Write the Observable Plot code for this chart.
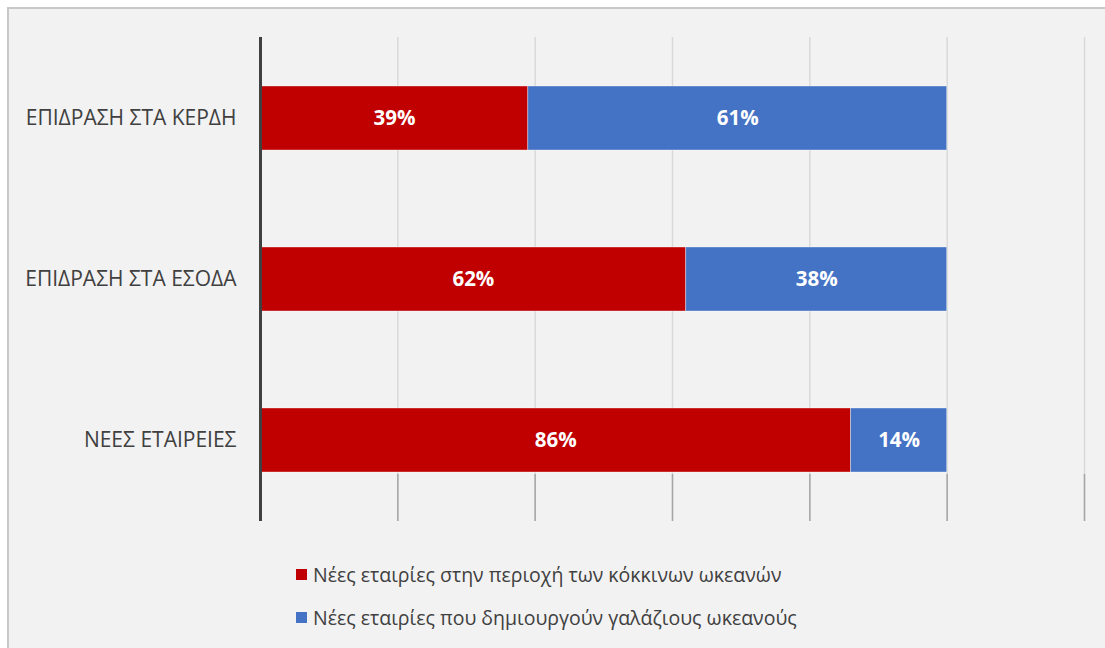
<!DOCTYPE html>
<html>
<head>
<meta charset="utf-8">
<script src="https://cdn.jsdelivr.net/npm/d3@7"></script>
<script src="https://cdn.jsdelivr.net/npm/@observablehq/plot@0.6"></script>
<style>
  html, body { margin: 0; padding: 0; background: #ffffff; width: 1105px; height: 648px; overflow: hidden; }
  #frame { position: absolute; left: 7px; top: 7px; width: 1110px; height: 660px; border: 2px solid #C8C8C8; background: #F2F2F2; }
  #chart { position: absolute; left: 0; top: 0; }
  #legend { position: absolute; left: 296px; top: 560px; font-family: "Open Sans", sans-serif; font-size: 19.5px; color: #404040; }
  .item { display: flex; align-items: center; height: 28px; margin-bottom: 15px; }
  .sw { width: 11px; height: 11px; margin-right: 6px; }
</style>
</head>
<body>
<div id="frame"></div>
<div id="chart"></div>
<div id="legend"></div>
<script>
const categories = ["ΕΠΙΔΡΑΣΗ ΣΤΑ ΚΕΡΔΗ", "ΕΠΙΔΡΑΣΗ ΣΤΑ ΕΣΟΔΑ", "ΝΕΕΣ ΕΤΑΙΡΕΙΕΣ"];
const seriesNames = ["Νέες εταιρίες στην περιοχή των κόκκινων ωκεανών", "Νέες εταιρίες που δημιουργούν γαλάζιους ωκεανούς"];
const redValues = [0.39, 0.62, 0.86];
const blueValues = [0.61, 0.38, 0.14];
const gridTicks = [0.2, 0.4, 0.6, 0.8, 1.0, 1.2];
const colors = ["#C00000", "#4472C4"];

const rows = [];
categories.forEach((c, i) => {
  rows.push({category: c, series: seriesNames[0], value: redValues[i]});
  rows.push({category: c, series: seriesNames[1], value: blueValues[i]});
});

const chart = Plot.plot({
  width: 1105,
  height: 540,
  marginLeft: 260,
  marginRight: 21,
  marginTop: 37,
  marginBottom: 19,
  style: {background: "transparent", fontFamily: "'Open Sans', sans-serif"},
  x: {domain: [0, 1.2]},
  y: {domain: categories, paddingInner: 0.6, paddingOuter: 0.3},
  color: {domain: seriesNames, range: colors},
  marks: [
    Plot.gridX(gridTicks, {stroke: "#D9D9D9", strokeOpacity: 1, strokeWidth: 1.5}),
    Plot.axisX(gridTicks, {tickSize: -47, tickFormat: () => "", stroke: "#A6A6A6", strokeWidth: 1.5, label: null}),
    Plot.barX(rows, Plot.stackX({y: "category", x: "value", fill: "series", z: "series", stroke: "white", strokeOpacity: 0.45, strokeWidth: 0.8})),
    Plot.textX(rows, Plot.stackX({y: "category", x: "value", z: "series", text: d => Math.round(d.value * 100) + "%", fill: "white", fontWeight: "bold", fontSize: 20.5})),
    Plot.ruleX([0], {stroke: "#404040", strokeWidth: 3}),
    Plot.axisY({tickSize: 0, tickPadding: 24, fontSize: 21, color: "#404040", label: null})
  ]
});
document.getElementById("chart").appendChild(chart);

const legend = document.getElementById("legend");
seriesNames.forEach((name, i) => {
  const item = document.createElement("div");
  item.className = "item";
  const sw = document.createElement("div");
  sw.className = "sw";
  sw.style.background = colors[i];
  const label = document.createElement("span");
  label.textContent = name;
  item.appendChild(sw);
  item.appendChild(label);
  legend.appendChild(item);
});
</script>
</body>
</html>
